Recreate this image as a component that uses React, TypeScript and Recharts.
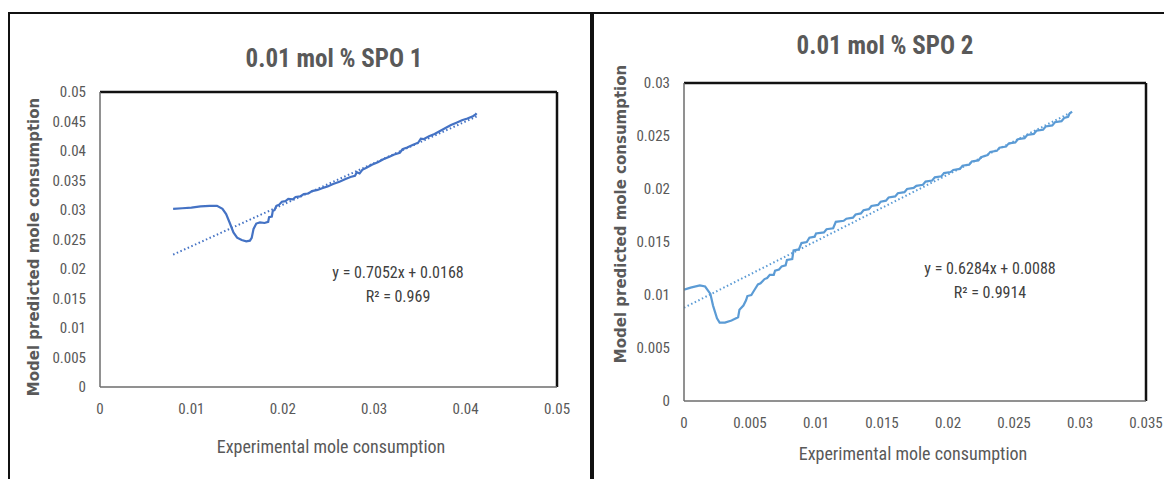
import React from "react";
import { LineChart, Line, XAxis, YAxis, ReferenceLine } from "recharts";

// SPO 1 : model predicted vs experimental mole consumption
const spo1Model: Array<[number, number]> = [
  [0.008, 0.0302], [0.009, 0.0303], [0.01, 0.0304], [0.011, 0.0306], [0.012, 0.0307],
  [0.0128, 0.0307], [0.0134, 0.0302], [0.0138, 0.0293], [0.0142, 0.0278], [0.0146, 0.0262],
  [0.015, 0.0253], [0.0155, 0.0249], [0.016, 0.0247], [0.0164, 0.0248], [0.0166, 0.0253],
  [0.0168, 0.0268], [0.0171, 0.0277], [0.0175, 0.0279], [0.018, 0.0278], [0.0184, 0.028],
  [0.0185, 0.0288], [0.0188, 0.0289], [0.0189, 0.0298], [0.0191, 0.03], [0.0193, 0.0307],
  [0.0196, 0.0309], [0.0199, 0.0314], [0.0203, 0.0315], [0.0206, 0.0319], [0.0211, 0.0318],
  [0.0214, 0.0322], [0.0219, 0.0323], [0.0223, 0.0327], [0.0228, 0.0328], [0.0232, 0.0332],
  [0.0238, 0.0334], [0.0243, 0.0337], [0.0249, 0.034], [0.0255, 0.0344], [0.0262, 0.0348],
  [0.0268, 0.0352], [0.0274, 0.0356], [0.0279, 0.0358], [0.0281, 0.0364], [0.0284, 0.0362],
  [0.0287, 0.0368], [0.0292, 0.0372], [0.0298, 0.0377], [0.0304, 0.0381], [0.031, 0.0386],
  [0.0316, 0.039], [0.0322, 0.0394], [0.0328, 0.0397], [0.0331, 0.0403], [0.0336, 0.0406],
  [0.0342, 0.041], [0.0348, 0.0414], [0.0351, 0.0421], [0.0354, 0.042], [0.036, 0.0425],
  [0.0366, 0.0429], [0.0372, 0.0434], [0.0378, 0.0439], [0.0384, 0.0444], [0.039, 0.0448],
  [0.0396, 0.0452], [0.0402, 0.0455], [0.0408, 0.0459], [0.0411, 0.0462], [0.0412, 0.0464],
];
const spo1Trend: Array<[number, number]> = [[0.008, 0.02244], [0.0412, 0.04585]];
const spo1XTicks = [0, 0.01, 0.02, 0.03, 0.04, 0.05];
const spo1YTicks = [0, 0.005, 0.01, 0.015, 0.02, 0.025, 0.03, 0.035, 0.04, 0.045, 0.05];

// SPO 2
const spo2Model: Array<[number, number]> = [
  [0, 0.0105], [0.0005, 0.0107], [0.0012, 0.0109], [0.0016, 0.0108], [0.002, 0.0101],
  [0.0022, 0.009], [0.0025, 0.0078], [0.0027, 0.0074], [0.0031, 0.0074], [0.0036, 0.0076],
  [0.0041, 0.0079], [0.0042, 0.0086], [0.0045, 0.009], [0.0047, 0.0095], [0.0048, 0.0099],
  [0.0051, 0.01], [0.0053, 0.0104], [0.0056, 0.011], [0.0058, 0.0111], [0.0061, 0.0115],
  [0.0063, 0.0116], [0.0065, 0.0119], [0.0068, 0.0119], [0.0069, 0.0123], [0.0072, 0.0124],
  [0.0074, 0.0127], [0.0077, 0.0128], [0.0078, 0.0133], [0.0082, 0.0134], [0.0083, 0.0142],
  [0.0087, 0.0143], [0.0089, 0.0149], [0.0093, 0.015], [0.0095, 0.0154], [0.0099, 0.0155],
  [0.01, 0.0158], [0.0106, 0.0159], [0.0108, 0.0162], [0.0113, 0.0163], [0.0115, 0.0169],
  [0.0121, 0.017], [0.0123, 0.0172], [0.0128, 0.0173], [0.013, 0.0176], [0.0134, 0.0177],
  [0.0136, 0.018], [0.014, 0.0181], [0.0142, 0.0184], [0.0147, 0.0185], [0.0149, 0.0188],
  [0.0153, 0.0189], [0.0155, 0.0192], [0.016, 0.0193], [0.0162, 0.0196], [0.0167, 0.0197],
  [0.0169, 0.02], [0.0174, 0.0201], [0.0176, 0.0203], [0.0181, 0.0204], [0.0183, 0.0207],
  [0.0188, 0.0208], [0.019, 0.0211], [0.0195, 0.0212], [0.0197, 0.0215], [0.0202, 0.0216],
  [0.0204, 0.0218], [0.0209, 0.0219], [0.0211, 0.0222], [0.0216, 0.0223], [0.0218, 0.0226],
  [0.0223, 0.0227], [0.0225, 0.023], [0.023, 0.0232], [0.0232, 0.0235], [0.0237, 0.0236],
  [0.0239, 0.0239], [0.0244, 0.024], [0.0246, 0.0243], [0.0251, 0.0244], [0.0253, 0.0247],
  [0.0258, 0.0248], [0.026, 0.0251], [0.0265, 0.0252], [0.0267, 0.0255], [0.0272, 0.0256],
  [0.0274, 0.0259], [0.0279, 0.026], [0.0281, 0.0263], [0.0286, 0.0264], [0.0288, 0.0267],
  [0.0291, 0.0268], [0.0292, 0.0271], [0.0294, 0.0273],
];
const spo2Trend: Array<[number, number]> = [[0, 0.0088], [0.0293, 0.02721]];
const spo2XTicks = [0, 0.005, 0.01, 0.015, 0.02, 0.025, 0.03, 0.035];
const spo2YTicks = [0, 0.005, 0.01, 0.015, 0.02, 0.025, 0.03];

const narrow = "'Roboto Condensed', 'Liberation Sans Narrow', 'Open Sans', sans-serif";
const gray = "#595959";
const X_AXIS_H = 30;

const toRows = (pts: Array<[number, number]>) => pts.map(([x, y]) => ({ x, y }));
const fmt = (v: number) => (v === 0 ? "0" : String(parseFloat(v.toFixed(4))));

interface PanelProps {
  left: number;
  width: number;
  plot: { left: number; right: number; top: number; bottom: number };
  model: Array<[number, number]>;
  trend: Array<[number, number]>;
  xTicks: number[];
  yTicks: number[];
  color: string;
}

function Panel({ left, width, plot, model, trend, xTicks, yTicks, color }: PanelProps) {
  const xMax = xTicks[xTicks.length - 1];
  const yMax = yTicks[yTicks.length - 1];
  const tickStyle = { fill: gray, fontSize: 15, fontFamily: narrow };
  return (
    <div style={{ position: "absolute", left, top: 0 }}>
      <LineChart
        width={width}
        height={479}
        margin={{ top: plot.top, right: width - plot.right, bottom: 479 - plot.bottom - X_AXIS_H, left: 0 }}
      >
        <XAxis
          type="number"
          dataKey="x"
          height={X_AXIS_H}
          domain={[0, xMax]}
          ticks={xTicks}
          tickFormatter={fmt}
          tickSize={0}
          tickMargin={16}
          axisLine={{ stroke: "#6d6d6d", strokeWidth: 1.5 }}
          tick={tickStyle}
          allowDataOverflow
        />
        <YAxis
          type="number"
          dataKey="y"
          width={plot.left}
          domain={[0, yMax]}
          ticks={yTicks}
          tickFormatter={fmt}
          tickSize={0}
          tickMargin={14}
          axisLine={{ stroke: "#6d6d6d", strokeWidth: 1.5 }}
          tick={tickStyle}
          allowDataOverflow
        />
        <ReferenceLine y={yMax} stroke="#111" strokeWidth={2.5} />
        <ReferenceLine x={xMax} stroke="#111" strokeWidth={2.5} />
        <Line
          data={toRows(trend)}
          dataKey="y"
          type="linear"
          stroke={color}
          strokeWidth={2}
          strokeDasharray="1.5 2.5"
          dot={false}
          activeDot={false}
          isAnimationActive={false}
        />
        <Line
          data={toRows(model)}
          dataKey="y"
          type="linear"
          stroke={color}
          strokeWidth={2.2}
          dot={false}
          activeDot={false}
          isAnimationActive={false}
        />
      </LineChart>
    </div>
  );
}

const abs = (l: number, t: number, extra: React.CSSProperties = {}): React.CSSProperties => ({
  position: "absolute",
  left: l,
  top: t,
  transform: "translate(-50%, -50%)",
  whiteSpace: "nowrap",
  ...extra,
});

const titleStyle: React.CSSProperties = { fontFamily: narrow, fontSize: 25, fontWeight: 700, color: gray };
const xTitleStyle: React.CSSProperties = { fontFamily: narrow, fontSize: 18, color: gray };
const yTitleStyle: React.CSSProperties = { fontFamily: "'DejaVu Sans', sans-serif", fontSize: 15, fontWeight: 700, color: gray };
const eqStyle: React.CSSProperties = { fontFamily: narrow, fontSize: 16, color: "#404040", textAlign: "center", lineHeight: "24px" };

export default function App() {
  return (
    <div style={{ position: "absolute", left: 0, top: 0, width: 1164, height: 479, overflow: "hidden", background: "#fff" }}>
      {/* page frames */}
      <div style={{ position: "absolute", left: 8, top: 12, width: 582, height: 480, borderLeft: "2px solid #111", borderTop: "2px solid #111" }} />
      <div style={{ position: "absolute", left: 590, top: 12, width: 4, height: 480, background: "#111" }} />
      <div style={{ position: "absolute", left: 594, top: 12, width: 570, height: 2, background: "#111" }} />

      <Panel
        left={0}
        width={590}
        plot={{ left: 100, right: 557, top: 92, bottom: 387 }}
        model={spo1Model}
        trend={spo1Trend}
        xTicks={spo1XTicks}
        yTicks={spo1YTicks}
        color="#4472C4"
      />
      <Panel
        left={596}
        width={568}
        plot={{ left: 88, right: 550, top: 83, bottom: 401 }}
        model={spo2Model}
        trend={spo2Trend}
        xTicks={spo2XTicks}
        yTicks={spo2YTicks}
        color="#5B9BD5"
      />

      <div style={abs(334, 58, titleStyle)}>0.01 mol % SPO 1</div>
      <div style={abs(885, 45, titleStyle)}>0.01 mol % SPO 2</div>

      <div style={abs(331, 446, xTitleStyle)}>Experimental mole consumption</div>
      <div style={abs(913, 453, xTitleStyle)}>Experimental mole consumption</div>

      <div style={abs(34, 247, { ...yTitleStyle, transform: "translate(-50%, -50%) rotate(-90deg)" })}>
        Model predicted mole consumption
      </div>
      <div style={abs(621, 214, { ...yTitleStyle, transform: "translate(-50%, -50%) rotate(-90deg)" })}>
        Model predicted mole consumption
      </div>

      <div style={abs(398, 285, eqStyle)}>
        y = 0.7052x + 0.0168
        <br />
        R² = 0.969
      </div>
      <div style={abs(990, 281, eqStyle)}>
        y = 0.6284x + 0.0088
        <br />
        R² = 0.9914
      </div>
    </div>
  );
}
